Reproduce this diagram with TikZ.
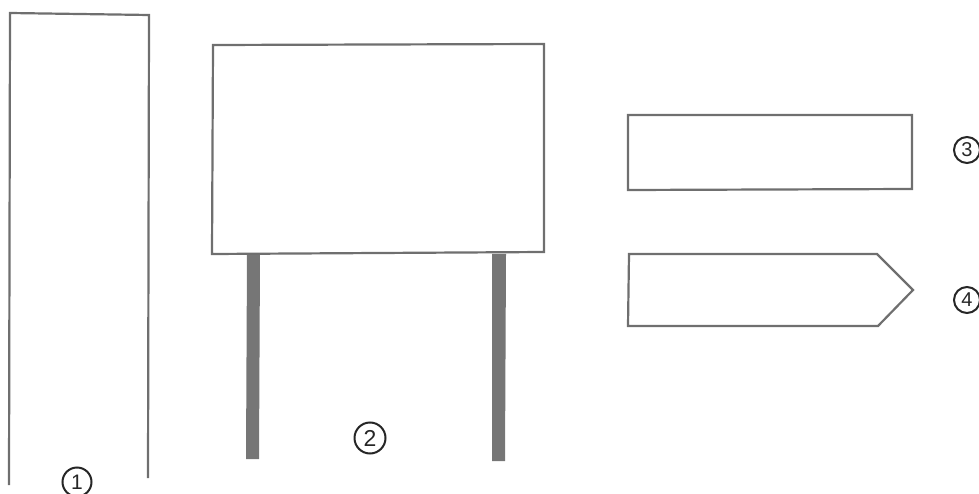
\documentclass[tikz,border=0pt]{standalone}
\usepackage{fontspec}
\setmainfont{Liberation Sans}
\definecolor{pen}{HTML}{6F6F6F}
\definecolor{post}{HTML}{767676}
\tikzset{
  outline/.style={draw=pen, line width=2.2pt, line join=miter},
  postbar/.style={fill=post, draw=none},
  numlabel/.style={circle, draw=black!85, line width=2pt, inner sep=0pt, text=black!85}
}
\begin{document}
\begin{tikzpicture}[x=1pt,y=-1pt]
\useasboundingbox (0,0) rectangle (979,494);
% shape 1: tall open panel
\draw[outline] (9,485) -- (10,13) -- (149,15) -- (148,478);
\node[numlabel, minimum size=29pt, font=\fontsize{21}{21}\selectfont] (n1) at (77,482) {1};
% shape 2: billboard on posts
\fill[postbar] (247,254) -- (260,254) -- (259,459) -- (246,459) -- cycle;
\fill[postbar] (492,254) -- (506,254) -- (505,461) -- (492,461) -- cycle;
\draw[outline] (213,45) -- (544,44) -- (544,252) -- (212,254) -- cycle;
\node[numlabel, minimum size=31pt, font=\fontsize{23}{23}\selectfont] (n2) at (370,438) {2};
% shape 3: rectangle
\draw[outline] (628,115) -- (912,115) -- (912,189) -- (628,190) -- cycle;
\node[numlabel, minimum size=26pt, font=\fontsize{20}{20}\selectfont] (n3) at (967,150) {3};
% shape 4: arrow-shaped sign
\draw[outline] (629,254) -- (877,254) -- (913,290) -- (878,326) -- (628,326) -- cycle;
\node[numlabel, minimum size=26pt, font=\fontsize{20}{20}\selectfont] (n4) at (967,300) {4};
\end{tikzpicture}
\end{document}
